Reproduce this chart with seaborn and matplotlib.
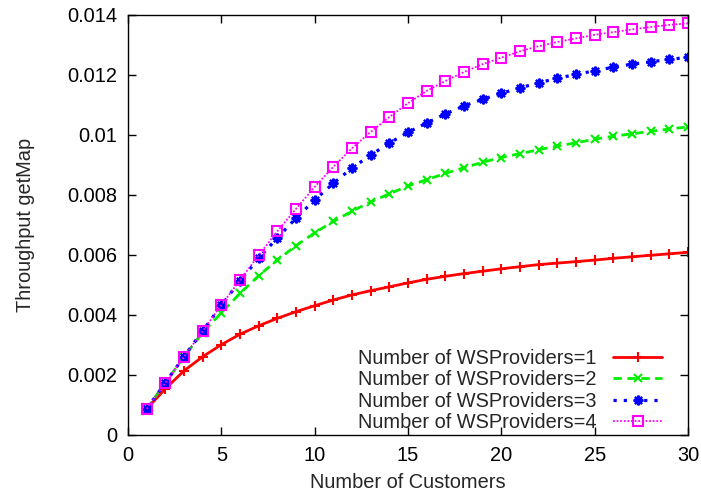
import numpy as np
import pandas as pd
import matplotlib
matplotlib.use("Agg")
import matplotlib.pyplot as plt
import seaborn as sns
from matplotlib.ticker import FuncFormatter

customers = list(range(1, 31))

wsp1 = [0.00087, 0.00154, 0.00214, 0.00261, 0.00301, 0.00336, 0.00364, 0.00389, 0.00411, 0.00431,
        0.00450, 0.00467, 0.00481, 0.00494, 0.00507, 0.00519, 0.00529, 0.00538, 0.00546, 0.00554,
        0.00561, 0.00568, 0.00573, 0.00578, 0.00583, 0.00589, 0.00594, 0.00599, 0.00604, 0.00609]
wsp2 = [0.00087, 0.00174, 0.00261, 0.00341, 0.00407, 0.00472, 0.00531, 0.00583, 0.00631, 0.00674,
        0.00712, 0.00746, 0.00777, 0.00804, 0.00830, 0.00851, 0.00872, 0.00891, 0.00909, 0.00925,
        0.00938, 0.00951, 0.00963, 0.00974, 0.00986, 0.00996, 0.01004, 0.01012, 0.01020, 0.01027]
wsp3 = [0.00087, 0.00174, 0.00261, 0.00347, 0.00432, 0.00514, 0.00589, 0.00657, 0.00723, 0.00783,
        0.00839, 0.00890, 0.00933, 0.00973, 0.01009, 0.01040, 0.01070, 0.01097, 0.01119, 0.01139,
        0.01157, 0.01174, 0.01189, 0.01202, 0.01214, 0.01226, 0.01236, 0.01244, 0.01252, 0.01259]
wsp4 = [0.00087, 0.00174, 0.00260, 0.00347, 0.00433, 0.00516, 0.00599, 0.00679, 0.00754, 0.00827,
        0.00894, 0.00956, 0.01010, 0.01060, 0.01106, 0.01147, 0.01180, 0.01210, 0.01236, 0.01258,
        0.01279, 0.01296, 0.01310, 0.01322, 0.01334, 0.01343, 0.01352, 0.01360, 0.01367, 0.01372]

labels = ["Number of WSProviders=1", "Number of WSProviders=2",
          "Number of WSProviders=3", "Number of WSProviders=4"]

sns.set_style("ticks")
plt.rcParams["font.family"] = ["Liberation Sans", "DejaVu Sans"]
FS = 14.4

fig = plt.figure(figsize=(7.01, 4.97), dpi=100)
ax = fig.add_axes([128 / 701, 62 / 497, 560 / 701, 420 / 497])

styles = [
    dict(color="#ff0000", ls="-", marker="+", ms=7, mew=1.5, lw=2.0, mfc="#ff0000"),
    dict(color="#00ee00", ls=(0, (3, 2)), marker="x", ms=6, mew=1.5, lw=2.0, mfc="#00ee00"),
    dict(color="#0000ff", ls=(0, (1, 2.2)), marker=(8, 2, 0), ms=7, mew=1.6, lw=2.3, mfc="#0000ff"),
    dict(color="#ff00ff", ls=(0, (1, 1)), marker="s", ms=7, mew=1.5, lw=1.3, mfc="none"),
]

for vals, lab in zip([wsp1, wsp2, wsp3, wsp4], labels):
    df = pd.DataFrame({"Customers": customers, "Throughput": vals})
    sns.lineplot(data=df, x="Customers", y="Throughput", ax=ax, legend=False)

lines = ax.lines[:4]
for ln, st in zip(lines, styles):
    ln.set_color(st["color"])
    ln.set_linestyle(st["ls"])
    ln.set_linewidth(st["lw"])
    ln.set_marker(st["marker"])
    ln.set_markersize(st["ms"])
    ln.set_markeredgewidth(st["mew"])
    ln.set_markeredgecolor(st["color"])
    ln.set_markerfacecolor(st["mfc"])

ax.set_xlim(0, 30)
ax.set_ylim(0, 0.014)
ax.set_xticks(range(0, 31, 5))
ax.set_yticks(np.arange(0, 0.0141, 0.002))
ax.yaxis.set_major_formatter(FuncFormatter(lambda v, p: "%g" % round(v, 4)))
ax.tick_params(direction="in", top=True, right=True, length=6, width=1,
               labelsize=FS, colors="black", pad=8)
for sp in ax.spines.values():
    sp.set_visible(True)
    sp.set_linewidth(1)
    sp.set_color("black")

ax.set_xlabel("Number of Customers", fontsize=FS, labelpad=6)
ax.set_ylabel("Throughput getMap", fontsize=FS, labelpad=23)

ax.legend(lines, labels, loc="lower right", bbox_to_anchor=(540 / 560, -0.008),
          frameon=False, markerfirst=False, fontsize=FS, handlelength=2.45,
          labelspacing=0.13, handletextpad=0.8, borderaxespad=0.0, borderpad=0.3)

plt.savefig("out.png", dpi=100)
plt.close()
